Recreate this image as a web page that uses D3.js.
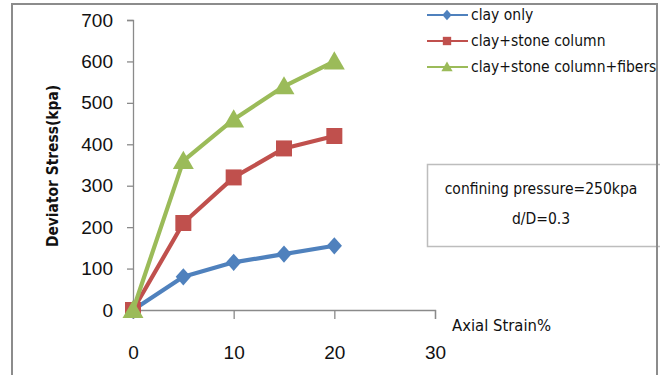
<!DOCTYPE html>
<html><head><meta charset="utf-8">
<script src="https://cdn.jsdelivr.net/npm/d3@7"></script>
<style>
html,body{margin:0;padding:0;background:#fff;}
svg{display:block;font-family:"Liberation Sans Narrow","DejaVu Sans Condensed","Open Sans",sans-serif;}
</style></head>
<body>
<svg id="chart" width="660" height="375"></svg>
<script>
const strain = [0, 5, 10, 15, 20];
const clayOnly = [0, 80, 115, 135, 155];
const clayStone = [0, 210, 320, 390, 420];
const clayStoneFibers = [0, 360, 460, 540, 600];
const seriesNames = ["clay only", "clay+stone column", "clay+stone column+fibers"];
const seriesColors = ["#4F81BD", "#C0504D", "#9BBB59"];
const seriesSymbols = ["diamond", "square", "triangle"];
const xTicks = [0, 10, 20, 30];
const yTicks = [0, 100, 200, 300, 400, 500, 600, 700];
const xTitle = "Axial Strain%";
const yTitle = "Deviator Stress(kpa)";
const noteLines = ["confining pressure=250kpa", "d/D=0.3"];

const svg = d3.select("#chart");
const x = d3.scaleLinear().domain([0, 30]).range([133, 435]);
const y = d3.scaleLinear().domain([0, 700]).range([310, 20]);
const axisColor = "#8a8a8a";

// outer frame
svg.append("path").attr("d", "M12,380 L12,4 L657,4 L657,380")
  .attr("fill", "none").attr("stroke", "#8c8c8c").attr("stroke-width", 2);

// annotation box
svg.append("rect").attr("x", 427.5).attr("y", 164.5).attr("width", 240).attr("height", 82)
  .attr("fill", "#fff").attr("stroke", "#bdbdbd").attr("stroke-width", 1.5);
svg.append("path").attr("d", "M657,150 L657,260")
  .attr("stroke", "#8c8c8c").attr("stroke-width", 2);
noteLines.forEach((t, i) => {
  svg.append("text").attr("x", 541).attr("y", 194 + i * 30).attr("text-anchor", "middle")
    .attr("font-size", 15.5).attr("fill", "#111").text(t);
});

// y axis
const yAxis = svg.append("g").attr("transform", "translate(133,0)")
  .call(d3.axisLeft(y).tickValues(yTicks).tickSize(6).tickPadding(14).tickFormat(d3.format("d")));
yAxis.select(".domain").attr("stroke", axisColor).attr("stroke-width", 1.3);
yAxis.selectAll(".tick line").attr("stroke", axisColor).attr("stroke-width", 1.3);
yAxis.selectAll(".tick text").attr("font-family", null).attr("font-size", 19).attr("fill", "#111");

// x axis
const xAxis = svg.append("g").attr("transform", "translate(0,310)")
  .call(d3.axisBottom(x).tickValues(xTicks).tickSize(9).tickPadding(27).tickFormat(d3.format("d")));
xAxis.select(".domain").attr("stroke", axisColor).attr("stroke-width", 1.3);
xAxis.selectAll(".tick line").attr("stroke", axisColor).attr("stroke-width", 1.3);
xAxis.selectAll(".tick text").attr("font-family", null).attr("font-size", 19).attr("fill", "#111");

// axis titles
svg.append("text").attr("x", 452).attr("y", 331).attr("font-size", 16.5).attr("fill", "#111").text(xTitle);
svg.append("text").attr("transform", "translate(58,166) rotate(-90)").attr("text-anchor", "middle")
  .attr("font-size", 15.4).attr("font-weight", "bold").attr("fill", "#111").text(yTitle);

// symbols
const diamondSym = {
  draw(ctx, size) {
    const h = Math.sqrt(size) / 2;
    const w = h * 0.88;
    ctx.moveTo(0, -h); ctx.lineTo(w, 0); ctx.lineTo(0, h); ctx.lineTo(-w, 0); ctx.closePath();
  }
};
const symType = {diamond: diamondSym, square: d3.symbolSquare, triangle: d3.symbolTriangle};
const symSize = {diamond: 300, square: 256, triangle: 190};
const legSize = {diamond: 110, square: 70, triangle: 55};

// series
const allSeries = [clayOnly, clayStone, clayStoneFibers];
const line = d3.line().x((d, i) => x(strain[i])).y(d => y(d));

allSeries.forEach((vals, s) => {
  const g = svg.append("g");
  g.append("path").datum(vals).attr("d", line).attr("fill", "none")
    .attr("stroke", seriesColors[s]).attr("stroke-width", 4.2).attr("stroke-linejoin", "round");
  g.selectAll("path.m").data(vals).enter().append("path").attr("class", "m")
    .attr("transform", (d, i) => `translate(${x(strain[i])},${y(d) + (seriesSymbols[s] === "triangle" ? 2 : 0)})`)
    .attr("d", d3.symbol().type(symType[seriesSymbols[s]]).size(symSize[seriesSymbols[s]]))
    .attr("fill", seriesColors[s]);
});

// legend
seriesNames.forEach((name, i) => {
  const ly = 15 + i * 26;
  const g = svg.append("g");
  g.append("line").attr("x1", 427).attr("x2", 468).attr("y1", ly).attr("y2", ly)
    .attr("stroke", seriesColors[i]).attr("stroke-width", 2.2);
  g.append("path").attr("transform", `translate(447,${ly + (seriesSymbols[i] === "triangle" ? 1 : 0)})`)
    .attr("d", d3.symbol().type(symType[seriesSymbols[i]]).size(legSize[seriesSymbols[i]]))
    .attr("fill", seriesColors[i]);
  g.append("text").attr("x", 471).attr("y", ly + 5).attr("font-size", 15.5).attr("fill", "#111").text(name);
});
</script>
</body></html>
